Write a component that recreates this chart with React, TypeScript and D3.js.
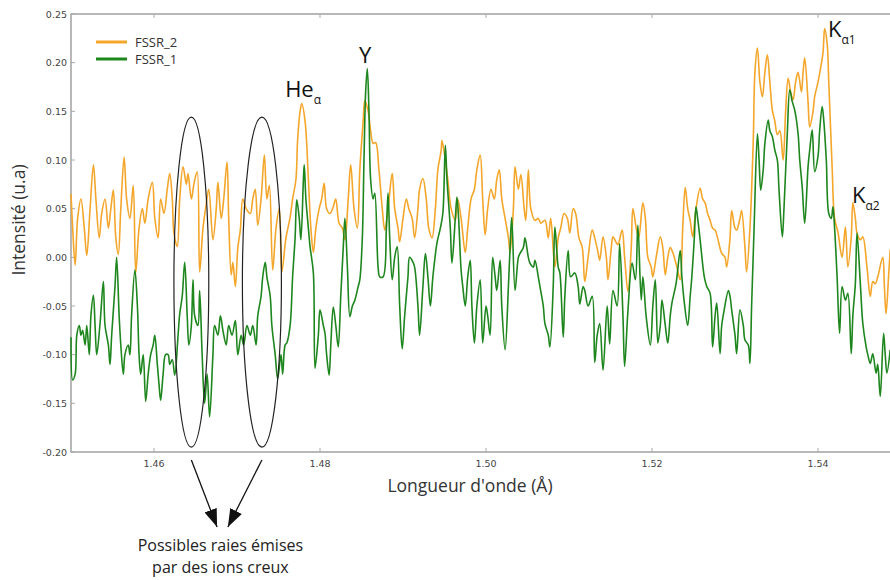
import * as d3 from 'd3';

// FSSR_2 spectrum: [wavelength (Å), intensity (u.a)]
const FSSR_2: [number, number][] = [
  [1.4500,0.065],[1.4502,0.03],[1.4505,-0.008],[1.4508,0.04],[1.4512,0.06],[1.4516,0.03],[1.4519,0.002],[1.4523,0.05],[1.4527,0.095],[1.4530,0.06],
  [1.4534,0.02],[1.4537,0.045],[1.4541,0.06],[1.4545,0.03],[1.4548,0.05],[1.4551,0.069],[1.4554,0.02],[1.4557,0.003],[1.4560,0.05],[1.4564,0.103],
  [1.4567,0.06],[1.4571,0.04],[1.4575,0.074],[1.4578,-0.016],[1.4582,0.03],[1.4586,0.05],[1.4589,0.035],[1.4593,0.06],[1.4598,0.077],[1.4601,0.04],
  [1.4605,0.02],[1.4608,0.06],[1.4612,0.045],[1.4616,0.07],[1.4619,0.086],[1.4622,0.06],[1.4624,0.025],[1.4628,0.011],[1.4631,0.06],[1.4635,0.093],
  [1.4639,0.075],[1.4641,0.086],[1.4645,0.06],[1.4648,0.075],[1.4652,0.088],[1.4655,-0.015],[1.4659,0.03],[1.4663,0.055],[1.4666,0.07],[1.4671,0.018],
  [1.4675,0.05],[1.4677,0.077],[1.4681,0.04],[1.4684,0.06],[1.4688,0.098],[1.4690,0.04],[1.4693,-0.018],[1.4695,-0.005],[1.4698,-0.03],[1.4701,0.01],
  [1.4704,0.028],[1.4707,0.06],[1.4711,0.05],[1.4716,0.045],[1.4719,0.06],[1.4722,0.07],[1.4725,0.033],[1.4729,0.06],[1.4733,0.105],[1.4736,0.06],
  [1.4739,0.074],[1.4743,-0.013],[1.4747,0.03],[1.4751,0.05],[1.4754,-0.015],[1.4759,0.02],[1.4764,0.041],[1.4767,0.06],[1.4771,0.08],[1.4773,0.12],
  [1.4776,0.15],[1.4778,0.158],[1.4782,0.14],[1.4786,0.08],[1.4789,0.03],[1.4792,0.005],[1.4795,0.03],[1.4799,0.05],[1.4802,0.06],[1.4805,0.076],
  [1.4808,0.05],[1.4812,0.045],[1.4816,0.052],[1.4819,0.06],[1.4823,0.035],[1.4827,0.03],[1.4830,0.018],[1.4834,0.06],[1.4837,0.095],[1.4841,0.05],
  [1.4845,0.03],[1.4848,0.09],[1.4852,0.14],[1.4854,0.161],[1.4858,0.15],[1.4861,0.13],[1.4864,0.117],[1.4867,0.118],[1.4871,0.09],[1.4875,0.05],
  [1.4878,0.028],[1.4882,0.05],[1.4887,0.086],[1.4890,0.05],[1.4894,0.03],[1.4896,0.016],[1.4900,0.04],[1.4904,0.06],[1.4907,0.05],[1.4911,0.04],
  [1.4914,0.02],[1.4918,0.05],[1.4920,0.07],[1.4924,0.081],[1.4928,0.06],[1.4931,0.03],[1.4935,0.02],[1.4939,0.05],[1.4942,0.09],[1.4946,0.11],
  [1.4947,0.12],[1.4951,0.1],[1.4954,0.08],[1.4958,0.05],[1.4963,0.038],[1.4966,0.06],[1.4970,0.04],[1.4975,0.005],[1.4978,0.03],[1.4982,0.06],
  [1.4986,0.07],[1.4989,0.09],[1.4993,0.105],[1.4996,0.06],[1.4999,0.023],[1.5002,0.05],[1.5006,0.07],[1.5010,0.06],[1.5013,0.08],[1.5016,0.09],
  [1.5019,0.06],[1.5023,0.04],[1.5027,0.02],[1.5029,0.005],[1.5033,0.05],[1.5035,0.093],[1.5039,0.07],[1.5042,0.085],[1.5046,0.05],[1.5048,0.038],
  [1.5051,0.09],[1.5054,0.05],[1.5059,0.038],[1.5063,0.04],[1.5066,0.035],[1.5071,0.038],[1.5075,0.02],[1.5078,0.04],[1.5083,-0.01],[1.5087,0.02],
  [1.5090,0.03],[1.5094,0.045],[1.5098,0.04],[1.5101,0.025],[1.5105,0.05],[1.5108,0.045],[1.5112,0.02],[1.5116,0.01],[1.5119,-0.025],[1.5123,0.0],
  [1.5128,0.028],[1.5131,0.02],[1.5135,0.005],[1.5137,-0.003],[1.5141,0.021],[1.5145,0.0],[1.5147,-0.023],[1.5151,0.01],[1.5153,0.021],[1.5157,0.015],
  [1.5159,0.013],[1.5164,0.028],[1.5167,0.0],[1.5171,-0.035],[1.5175,0.01],[1.5177,0.05],[1.5181,0.03],[1.5184,0.02],[1.5189,0.056],[1.5192,0.04],
  [1.5195,0.0],[1.5199,-0.01],[1.5201,-0.02],[1.5205,0.0],[1.5210,0.021],[1.5213,0.01],[1.5216,-0.018],[1.5219,0.0],[1.5222,0.01],[1.5225,0.005],
  [1.5230,-0.01],[1.5234,-0.023],[1.5237,0.03],[1.5240,0.072],[1.5243,0.05],[1.5246,0.038],[1.5249,0.021],[1.5253,0.05],[1.5258,0.071],[1.5261,0.06],
  [1.5264,0.056],[1.5267,0.045],[1.5270,0.038],[1.5273,0.03],[1.5276,0.028],[1.5279,0.02],[1.5284,0.004],[1.5288,0.0],[1.5290,-0.01],[1.5294,0.02],
  [1.5296,0.048],[1.5300,0.03],[1.5302,0.028],[1.5306,0.04],[1.5308,0.048],[1.5312,0.01],[1.5314,-0.015],[1.5318,0.03],[1.5322,0.12],[1.5324,0.19],
  [1.5327,0.215],[1.5330,0.18],[1.5333,0.165],[1.5336,0.19],[1.5339,0.208],[1.5342,0.18],[1.5345,0.151],[1.5348,0.14],[1.5351,0.126],[1.5354,0.13],
  [1.5358,0.1],[1.5361,0.15],[1.5364,0.184],[1.5367,0.17],[1.5370,0.162],[1.5373,0.18],[1.5376,0.19],[1.5380,0.17],[1.5382,0.19],[1.5384,0.205],
  [1.5388,0.16],[1.5390,0.134],[1.5394,0.15],[1.5396,0.165],[1.5400,0.18],[1.5402,0.189],[1.5406,0.21],[1.5408,0.235],[1.5411,0.22],[1.5413,0.18],
  [1.5417,0.093],[1.5420,0.04],[1.5424,0.026],[1.5429,0.0],[1.5433,0.031],[1.5436,-0.01],[1.5440,0.02],[1.5442,0.056],[1.5445,0.04],[1.5447,0.025],
  [1.5451,0.018],[1.5454,0.021],[1.5459,-0.01],[1.5463,-0.04],[1.5466,-0.025],[1.5469,-0.027],[1.5472,-0.02],[1.5478,0.0],[1.5480,-0.03],[1.5482,-0.058],
  [1.5485,-0.02],[1.5487,0.008],
];

// FSSR_1 spectrum
const FSSR_1: [number, number][] = [
  [1.4500,-0.082],[1.4502,-0.126],[1.4505,-0.12],[1.4507,-0.08],[1.4510,-0.07],[1.4512,-0.08],[1.4514,-0.075],[1.4517,-0.09],[1.4519,-0.07],[1.4522,-0.1],
  [1.4524,-0.06],[1.4527,-0.039],[1.4529,-0.07],[1.4531,-0.1],[1.4535,-0.068],[1.4539,-0.025],[1.4541,-0.07],[1.4545,-0.09],[1.4547,-0.11],[1.4549,-0.08],
  [1.4553,-0.03],[1.4555,0.0],[1.4558,-0.06],[1.4560,-0.09],[1.4563,-0.12],[1.4565,-0.1],[1.4569,-0.09],[1.4571,-0.1],[1.4573,-0.06],[1.4577,-0.013],
  [1.4580,-0.05],[1.4582,-0.1],[1.4584,-0.12],[1.4587,-0.1],[1.4590,-0.148],[1.4593,-0.12],[1.4596,-0.1],[1.4599,-0.09],[1.4601,-0.08],[1.4604,-0.11],
  [1.4606,-0.13],[1.4608,-0.147],[1.4611,-0.12],[1.4614,-0.1],[1.4617,-0.1],[1.4619,-0.11],[1.4622,-0.105],[1.4625,-0.121],[1.4629,-0.08],[1.4631,-0.058],
  [1.4634,-0.04],[1.4637,-0.005],[1.4640,-0.06],[1.4642,-0.09],[1.4645,-0.07],[1.4647,-0.023],[1.4649,-0.06],[1.4653,-0.07],[1.4655,-0.034],[1.4658,-0.1],
  [1.4661,-0.15],[1.4664,-0.12],[1.4667,-0.164],[1.4671,-0.1],[1.4673,-0.07],[1.4677,-0.08],[1.4680,-0.06],[1.4683,-0.075],[1.4687,-0.09],[1.4690,-0.07],
  [1.4694,-0.08],[1.4698,-0.065],[1.4701,-0.1],[1.4705,-0.08],[1.4708,-0.09],[1.4712,-0.07],[1.4716,-0.08],[1.4719,-0.07],[1.4723,-0.09],[1.4725,-0.06],
  [1.4729,-0.04],[1.4731,-0.02],[1.4734,-0.005],[1.4736,-0.02],[1.4740,-0.04],[1.4742,-0.07],[1.4746,-0.1],[1.4749,-0.125],[1.4753,-0.1],[1.4755,-0.12],
  [1.4758,-0.09],[1.4760,-0.088],[1.4764,-0.07],[1.4767,-0.02],[1.4770,0.02],[1.4772,0.059],[1.4775,0.04],[1.4777,0.018],[1.4780,0.08],[1.4781,0.095],
  [1.4783,0.06],[1.4786,0.03],[1.4788,0.011],[1.4792,-0.016],[1.4794,-0.114],[1.4798,-0.08],[1.4800,-0.054],[1.4804,-0.07],[1.4806,-0.078],[1.4808,-0.1],
  [1.4811,-0.121],[1.4813,-0.09],[1.4816,-0.051],[1.4819,-0.07],[1.4822,-0.092],[1.4825,-0.04],[1.4828,0.01],[1.4830,0.04],[1.4833,-0.01],[1.4836,-0.061],
  [1.4839,-0.05],[1.4842,-0.044],[1.4846,-0.03],[1.4848,-0.023],[1.4851,0.02],[1.4853,0.1],[1.4855,0.17],[1.4857,0.194],[1.4859,0.15],[1.4861,0.08],
  [1.4864,0.06],[1.4866,0.066],[1.4870,-0.01],[1.4872,-0.02],[1.4876,-0.02],[1.4880,0.03],[1.4882,0.066],[1.4884,0.02],[1.4887,-0.023],[1.4890,0.0],
  [1.4893,0.011],[1.4896,-0.05],[1.4899,-0.094],[1.4902,-0.06],[1.4906,-0.02],[1.4908,0.0],[1.4912,-0.005],[1.4914,-0.01],[1.4918,-0.05],[1.4920,-0.08],
  [1.4924,-0.03],[1.4927,0.004],[1.4930,-0.02],[1.4933,-0.05],[1.4936,-0.02],[1.4941,0.015],[1.4945,0.03],[1.4948,0.045],[1.4951,0.115],[1.4953,0.08],
  [1.4957,0.03],[1.4959,-0.006],[1.4963,0.04],[1.4965,0.062],[1.4967,0.04],[1.4970,-0.013],[1.4972,-0.03],[1.4975,-0.05],[1.4978,-0.02],[1.4981,-0.003],
  [1.4983,-0.05],[1.4986,-0.088],[1.4989,-0.05],[1.4993,-0.023],[1.4996,-0.088],[1.5000,-0.05],[1.5002,-0.06],[1.5005,-0.08],[1.5008,0.0],[1.5011,-0.02],
  [1.5013,-0.034],[1.5017,-0.003],[1.5019,-0.05],[1.5023,-0.095],[1.5027,-0.03],[1.5029,0.01],[1.5031,0.041],[1.5035,-0.034],[1.5039,0.0],[1.5041,0.004],
  [1.5045,0.01],[1.5047,0.02],[1.5051,0.0],[1.5053,-0.006],[1.5057,-0.01],[1.5059,-0.003],[1.5063,-0.02],[1.5065,-0.03],[1.5069,-0.05],[1.5071,-0.068],
  [1.5075,-0.08],[1.5077,-0.092],[1.5081,-0.03],[1.5083,0.031],[1.5087,-0.01],[1.5089,-0.016],[1.5093,-0.082],[1.5095,-0.04],[1.5099,0.007],[1.5102,-0.02],
  [1.5107,-0.016],[1.5111,-0.03],[1.5113,-0.048],[1.5117,-0.03],[1.5119,-0.034],[1.5123,-0.05],[1.5128,-0.04],[1.5131,-0.108],[1.5134,-0.08],[1.5137,-0.068],
  [1.5141,-0.116],[1.5146,-0.05],[1.5149,-0.089],[1.5153,-0.034],[1.5158,-0.05],[1.5161,0.014],[1.5165,-0.06],[1.5167,-0.112],[1.5171,-0.055],[1.5176,-0.006],
  [1.5180,-0.023],[1.5183,0.033],[1.5187,-0.044],[1.5189,-0.02],[1.5193,-0.061],[1.5198,-0.09],[1.5201,-0.05],[1.5204,-0.023],[1.5207,-0.088],[1.5210,-0.07],
  [1.5212,-0.044],[1.5216,-0.07],[1.5219,-0.088],[1.5222,-0.06],[1.5224,-0.047],[1.5229,-0.027],[1.5234,0.007],[1.5236,-0.02],[1.5239,-0.047],[1.5243,-0.07],
  [1.5246,-0.04],[1.5248,-0.02],[1.5251,0.02],[1.5253,0.052],[1.5255,0.04],[1.5258,0.018],[1.5263,-0.02],[1.5266,-0.03],[1.5270,-0.037],[1.5273,-0.092],
  [1.5276,-0.06],[1.5278,-0.047],[1.5282,-0.099],[1.5284,-0.07],[1.5287,-0.054],[1.5292,-0.034],[1.5294,-0.04],[1.5296,-0.054],[1.5300,-0.08],[1.5302,-0.099],
  [1.5306,-0.054],[1.5310,-0.07],[1.5312,-0.085],[1.5316,-0.09],[1.5318,-0.109],[1.5320,-0.05],[1.5323,0.03],[1.5327,0.127],[1.5329,0.1],[1.5331,0.069],
  [1.5334,0.09],[1.5336,0.117],[1.5340,0.141],[1.5342,0.13],[1.5345,0.124],[1.5348,0.11],[1.5351,0.1],[1.5353,0.07],[1.5357,0.021],[1.5359,0.05],
  [1.5363,0.127],[1.5366,0.172],[1.5369,0.16],[1.5372,0.151],[1.5376,0.127],[1.5378,0.1],[1.5381,0.072],[1.5384,0.035],[1.5388,0.093],[1.5390,0.11],
  [1.5393,0.131],[1.5396,0.088],[1.5400,0.104],[1.5402,0.13],[1.5405,0.155],[1.5407,0.14],[1.5410,0.1],[1.5413,0.045],[1.5416,0.04],[1.5418,0.052],
  [1.5420,0.03],[1.5423,-0.02],[1.5426,-0.078],[1.5429,-0.03],[1.5433,-0.044],[1.5436,-0.037],[1.5440,-0.099],[1.5442,-0.06],[1.5445,-0.027],[1.5447,0.025],
  [1.5451,-0.027],[1.5454,-0.068],[1.5458,-0.092],[1.5460,-0.1],[1.5463,-0.109],[1.5466,-0.099],[1.5470,-0.119],[1.5472,-0.11],[1.5475,-0.143],[1.5479,-0.078],
  [1.5481,-0.1],[1.5483,-0.119],[1.5487,-0.095],
];

const X_TICKS = [1.46, 1.48, 1.5, 1.52, 1.54];
const Y_TICKS = [-0.2, -0.15, -0.1, -0.05, 0, 0.05, 0.1, 0.15, 0.2, 0.25];

const SERIES = [
  { name: 'FSSR_2', data: FSSR_2, color: '#f4a62a' },
  { name: 'FSSR_1', data: FSSR_1, color: '#1d861d' },
];

// line labels, anchored at [wavelength, intensity]
const PEAK_LABELS = [
  { main: 'He', sub: 'α', at: [1.4758, 0.165] },
  { main: 'Y', sub: '', at: [1.4847, 0.2] },
  { main: 'K', sub: 'α1', at: [1.5412, 0.2265] },
  { main: 'K', sub: 'α2', at: [1.5441, 0.0558] },
];

// circled regions: centre wavelength, half width, intensity range
const CIRCLED = [
  { center: 1.4645, halfWidth: 0.0021, low: -0.195, high: 0.144 },
  { center: 1.4730, halfWidth: 0.00235, low: -0.195, high: 0.144 },
];

const ARROW_TIPS = [1.4676, 1.4689];
const CAPTION = ['Possibles raies émises', 'par des ions creux'];

const W = 890, H = 580;
const M = { left: 71, top: 14, right: 901, bottom: 452 };
const TITLE_FONT = '"Open Sans", "Liberation Sans", sans-serif';
const TICK_FONT = '"DejaVu Sans", sans-serif';

export default function App() {
  const x = d3.scaleLinear().domain([1.45, 1.55]).range([M.left, M.right]);
  const y = d3.scaleLinear().domain([-0.2, 0.25]).range([M.bottom, M.top]);
  const line = d3.line<[number, number]>()
    .x((d) => x(d[0])).y((d) => y(d[1]))
    .curve(d3.curveCatmullRom.alpha(0.5));

  return (
    <svg width={W} height={H} style={{ position: 'absolute', left: 0, top: 0, background: '#fff' }}>
      <defs>
        <marker id="tip" viewBox="0 0 18 13" refX={18} refY={6.5} markerWidth={18} markerHeight={13}
          markerUnits="userSpaceOnUse" orient="auto">
          <path d="M0,0 L18,6.5 L0,13 Z" fill="#111" />
        </marker>
      </defs>

      {/* frame */}
      <rect x={M.left} y={M.top} width={M.right - M.left} height={M.bottom - M.top}
        fill="none" stroke="#9a9a9a" strokeWidth={1.4} />

      {X_TICKS.map((t) => (
        <g key={t}>
          <line x1={x(t)} x2={x(t)} y1={M.bottom} y2={M.bottom - 4} stroke="#aaa" />
          <line x1={x(t)} x2={x(t)} y1={M.top} y2={M.top + 4} stroke="#aaa" />
          <text x={x(t)} y={M.bottom + 15} textAnchor="middle" fontSize={9.5} fill="#444"
            fontFamily={TICK_FONT}>{t.toFixed(2)}</text>
        </g>
      ))}
      {Y_TICKS.map((t) => (
        <g key={t}>
          <line x1={M.left} x2={M.left + 4} y1={y(t)} y2={y(t)} stroke="#aaa" />
          <text x={M.left - 4} y={y(t) + 3.5} textAnchor="end" fontSize={9.5} fill="#444"
            fontFamily={TICK_FONT}>{t.toFixed(2)}</text>
        </g>
      ))}

      {/* spectra */}
      {SERIES.map((s) => (
        <path key={s.name} d={line(s.data) ?? ''} fill="none" stroke={s.color}
          strokeWidth={1.6} strokeLinejoin="round" />
      ))}

      {/* legend */}
      {SERIES.map((s, i) => (
        <g key={s.name} transform={`translate(96, ${42 + i * 17})`}>
          <line x1={0} x2={31} y1={0} y2={0} stroke={s.color} strokeWidth={3} />
          <text x={39} y={5} fontSize={13} fill="#333" fontFamily={TITLE_FONT}>{s.name}</text>
        </g>
      ))}

      {/* peak labels */}
      {PEAK_LABELS.map((p, i) => (
        <text key={i} x={x(p.at[0])} y={y(p.at[1])} fontSize={22} fill="#111" fontFamily={TITLE_FONT}>
          {p.main}
          {p.sub && <tspan fontSize={12} dy={7}>{p.sub}</tspan>}
        </text>
      ))}

      {/* circled regions */}
      {CIRCLED.map((c, i) => (
        <ellipse key={i} cx={x(c.center)} cy={(y(c.low) + y(c.high)) / 2}
          rx={x(c.center + c.halfWidth) - x(c.center)} ry={(y(c.low) - y(c.high)) / 2}
          fill="none" stroke="#222" strokeWidth={1.2} />
      ))}

      {/* arrows to caption */}
      {CIRCLED.map((c, i) => (
        <line key={i} x1={x(c.center)} y1={M.bottom + 8} x2={x(ARROW_TIPS[i])} y2={M.bottom + 75}
          stroke="#111" strokeWidth={1.3} markerEnd="url(#tip)" />
      ))}
      {CAPTION.map((t, i) => (
        <text key={t} x={x(1.468)} y={M.bottom + 99 + i * 22} textAnchor="middle" fontSize={16}
          fill="#222" fontFamily={TITLE_FONT}>{t}</text>
      ))}

      {/* axis titles */}
      <text x={470} y={M.bottom + 40} textAnchor="middle" fontSize={17.5} fill="#333"
        fontFamily={TITLE_FONT}>Longueur d'onde (Å)</text>
      <text transform={`translate(25, 220) rotate(-90)`} textAnchor="middle"
        fontSize={17.5} fill="#333" fontFamily={TITLE_FONT}>Intensité (u.a)</text>
    </svg>
  );
}
